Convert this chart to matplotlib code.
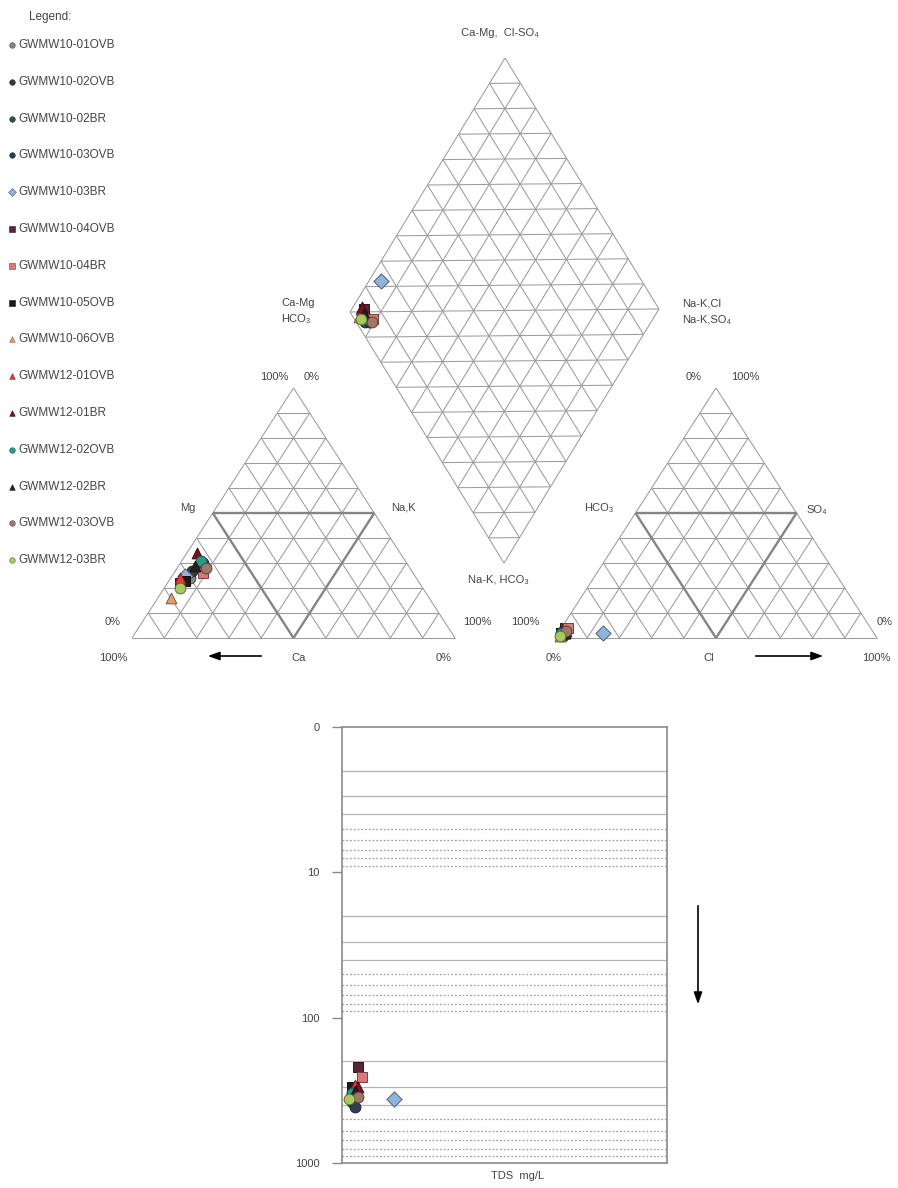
import matplotlib
matplotlib.use("Agg")
import matplotlib.pyplot as plt
import matplotlib.colors as mcolors
import numpy as np

plt.rcParams["font.family"] = ["Liberation Sans", "DejaVu Sans"]

# ---------------------------------------------------------------- data
samples = ["GWMW10-01OVB", "GWMW10-02OVB", "GWMW10-02BR", "GWMW10-03OVB",
           "GWMW10-03BR", "GWMW10-04OVB", "GWMW10-04BR", "GWMW10-05OVB",
           "GWMW10-06OVB", "GWMW12-01OVB", "GWMW12-01BR", "GWMW12-02OVB",
           "GWMW12-02BR", "GWMW12-03OVB", "GWMW12-03BR"]
colors = ["#7f8c80", "#3a3a3a", "#35504f", "#2f3f4f", "#8fb3d9",
          "#5a2633", "#d9777a", "#1a1a1a", "#e0a070", "#e8383a",
          "#7a1020", "#2a9a8a", "#222222", "#a07868", "#a8c860"]
markers = ["o", "o", "o", "o", "D", "s", "s", "s", "^", "^",
           "^", "o", "^", "o", "o"]

# cations, meq %
ca = [70, 68, 63, 64, 71, 74, 65, 72, 80, 73, 63, 63, 66, 63, 75]
mg = [24, 27, 30, 28, 25, 22, 26, 23, 16, 24, 34, 31, 29, 28, 20]
na_k = [6, 5, 7, 8, 4, 4, 9, 5, 4, 3, 3, 6, 5, 9, 5]
# anions, meq %
hco3 = [97, 96, 97, 96, 84, 95, 94, 97, 98, 96, 95, 97, 96, 95, 98]
cl = [1, 2, 2, 1, 14, 1, 2, 1, 1, 2, 2, 1, 2, 2, 1]
so4 = [2, 2, 1, 3, 2, 4, 4, 2, 1, 2, 3, 2, 2, 3, 1]
# total dissolved solids, mg/L
tds = [330, 345, 380, 410, 365, 220, 255, 300, 340, 290, 300, 330, 320, 350, 360]

tds_ticks = [1, 10, 100, 1000]
tds_tick_labels = ["0", "10", "100", "1000"]

# ---------------------------------------------------------------- layout
W, H = 898, 1188
fig = plt.figure(figsize=(W / 100, H / 100), dpi=100)
ax = fig.add_axes([0, 0, 1, 1])
ax.set_xlim(0, W)
ax.set_ylim(H, 0)
ax.axis("off")

GRID = "#9c9c9c"
THICK = "#858585"
TXT = "#444444"
FS = 8

# triangle corners: (bottom-left, bottom-right, apex)
cat_tri = (np.array([132.0, 638.0]), np.array([455.0, 638.0]), np.array([293.5, 388.0]))
an_tri = (np.array([555.0, 638.0]), np.array([877.0, 638.0]), np.array([716.0, 388.0]))
# diamond corners
d_left = np.array([350.0, 312.0])
d_bottom = np.array([504.0, 563.0])
d_top = np.array([505.0, 58.0])


def tern(tri, f_bl, f_br, f_top):
    bl, br, top = tri
    return f_bl * bl + f_br * br + f_top * top


def diam(f_na, f_cs):
    return d_left + f_na * (d_bottom - d_left) + f_cs * (d_top - d_left)


def seg(p, q, **kw):
    ax.plot([p[0], q[0]], [p[1], q[1]], solid_capstyle="butt", **kw)


def draw_triangle(tri):
    kw = dict(color=GRID, lw=0.75, zorder=1)
    for i in range(1, 10):
        f = i / 10
        seg(tern(tri, 1 - f, 0, f), tern(tri, 0, 1 - f, f), **kw)
        seg(tern(tri, f, 1 - f, 0), tern(tri, f, 0, 1 - f), **kw)
        seg(tern(tri, 1 - f, f, 0), tern(tri, 0, f, 1 - f), **kw)
    bl, br, top = tri
    for p, q in [(bl, br), (br, top), (top, bl)]:
        seg(p, q, **kw)
    m1 = tern(tri, 0.5, 0, 0.5)
    m2 = tern(tri, 0, 0.5, 0.5)
    m3 = tern(tri, 0.5, 0.5, 0)
    for p, q in [(m1, m2), (m2, m3), (m3, m1)]:
        seg(p, q, color=THICK, lw=1.7, zorder=2)


def draw_diamond():
    kw = dict(color=GRID, lw=0.75, zorder=1)
    for i in range(0, 11):
        f = i / 10
        seg(diam(f, 0), diam(f, 1), **kw)
        seg(diam(0, f), diam(1, f), **kw)
    for i in range(-9, 10):
        d = i / 10
        if d >= 0:
            seg(diam(d, 0), diam(1, 1 - d), **kw)
        else:
            seg(diam(0, -d), diam(1 + d, 1), **kw)


draw_triangle(cat_tri)
draw_triangle(an_tri)
draw_diamond()


def edge_of(c):
    r, g, b = mcolors.to_rgb(c)
    return (r * 0.55, g * 0.55, b * 0.55)


# ---------------------------------------------------------------- samples
for i, name in enumerate(samples):
    c, m = colors[i], markers[i]
    tot_c = ca[i] + mg[i] + na_k[i]
    tot_a = hco3[i] + cl[i] + so4[i]
    pc = tern(cat_tri, ca[i] / tot_c, na_k[i] / tot_c, mg[i] / tot_c)
    pa = tern(an_tri, hco3[i] / tot_a, cl[i] / tot_a, so4[i] / tot_a)
    pd = diam(na_k[i] / tot_c, (cl[i] + so4[i]) / tot_a)
    for p in (pc, pa, pd):
        ax.scatter(p[0], p[1], s=60, marker=m, color=c, edgecolors=edge_of(c),
                   linewidths=0.7, zorder=5)

# ---------------------------------------------------------------- legend
ax.text(50, 17, "Legend:", ha="center", va="center", fontsize=FS + 0.5, color=TXT)
for i, name in enumerate(samples):
    y = 45 + i * 36.8
    ax.scatter(12, y, s=16, marker=markers[i], color=colors[i],
               edgecolors=edge_of(colors[i]), linewidths=0.4, zorder=5)
    ax.text(18, y, name, ha="left", va="center", fontsize=FS + 0.5, color=TXT)

# ---------------------------------------------------------------- labels
labels = [
    (500, 33, "Ca-Mg,  Cl-SO₄", "center"),
    (281, 303, "Ca-Mg", "left"),
    (281, 319, "HCO₃", "left"),
    (682, 303, "Na-K,Cl", "left"),
    (682, 320, "Na-K,SO₄", "left"),
    (274, 377, "100%", "center"),
    (312, 377, "0%", "center"),
    (188, 508, "Mg", "center"),
    (403, 508, "Na,K", "center"),
    (113, 622, "0%", "center"),
    (113, 658, "100%", "center"),
    (299, 658, "Ca", "center"),
    (444, 658, "0%", "center"),
    (498, 580, "Na-K, HCO₃", "center"),
    (477, 622, "100%", "center"),
    (525, 622, "100%", "center"),
    (694, 377, "0%", "center"),
    (745, 377, "100%", "center"),
    (599, 508, "HCO₃", "center"),
    (817, 510, "SO₄", "center"),
    (885, 622, "0%", "center"),
    (554, 658, "0%", "center"),
    (709, 658, "Cl", "center"),
    (876, 658, "100%", "center"),
]
for x, y, s, ha in labels:
    ax.text(x, y, s, ha=ha, va="center", fontsize=FS, color=TXT)

arrow_kw = dict(arrowstyle="-|>,head_length=0.7,head_width=0.25", color="black", lw=1.2)
ax.annotate("", xy=(205, 656), xytext=(264, 656), arrowprops=arrow_kw)
ax.annotate("", xy=(826, 656), xytext=(753, 656), arrowprops=arrow_kw)
ax.annotate("", xy=(698, 1007), xytext=(698, 903), arrowprops=arrow_kw)

ax.text(518, 1176, "TDS  mg/L", ha="center", va="center", fontsize=FS, color=TXT)

# ---------------------------------------------------------------- TDS panel
ax2 = fig.add_axes([342 / W, 1 - 1163 / H, 325 / W, 436 / H])
ax2.set_yscale("log")
ax2.set_ylim(1000, 1)
ax2.set_xlim(0, 100)
for dec in (1, 10, 100):
    for k in range(2, 10):
        if k <= 4:
            ax2.axhline(k * dec, color="#b4b4b4", lw=0.9, zorder=1)
        else:
            ax2.axhline(k * dec, color="#a0a0a0", lw=0.9, ls=(0, (1.5, 1.5)), zorder=1)
ax2.set_yticks(tds_ticks)
ax2.set_yticklabels(tds_tick_labels)
ax2.yaxis.set_minor_locator(matplotlib.ticker.NullLocator())
ax2.set_xticks([])
ax2.tick_params(axis="y", direction="out", length=7, width=1, color="#888888",
                labelcolor=TXT, labelsize=FS, pad=9)
for sp in ax2.spines.values():
    sp.set_color("#8a8a8a")
    sp.set_linewidth(1.2)

for i in range(len(samples)):
    tot_a = hco3[i] + cl[i] + so4[i]
    xs = 100 * (cl[i] + so4[i]) / tot_a
    ax2.scatter(xs, tds[i], s=60, marker=markers[i], color=colors[i],
                edgecolors=edge_of(colors[i]), linewidths=0.7, zorder=5, clip_on=False)

fig.savefig("out.png", dpi=100)
